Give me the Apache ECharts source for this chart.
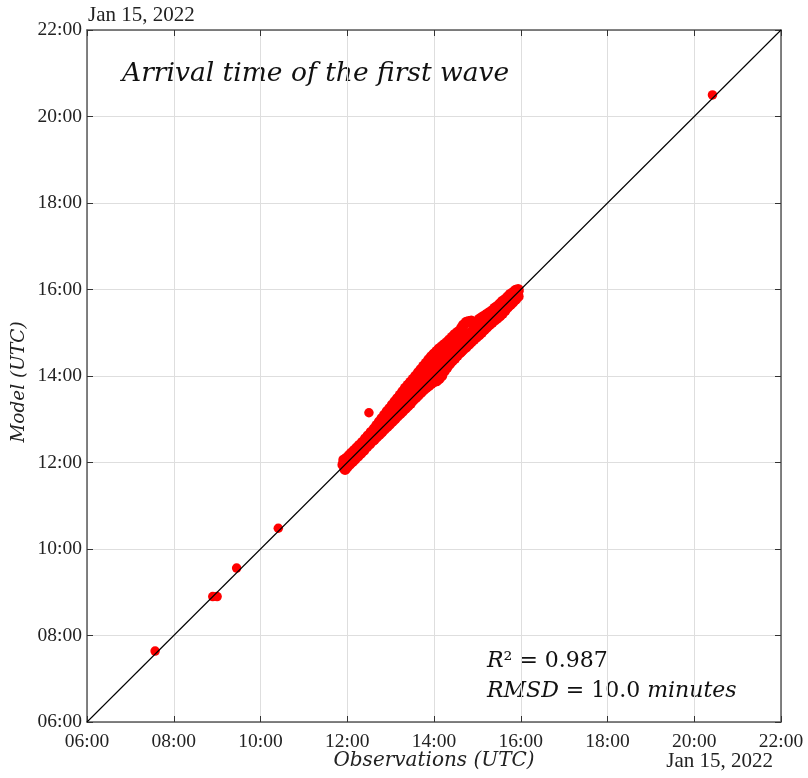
<!DOCTYPE html>
<html>
<head>
<meta charset="utf-8">
<script src="https://cdn.jsdelivr.net/npm/echarts@6/dist/echarts.min.js"></script>
<style>html,body{margin:0;padding:0;background:#fff}#c{width:808px;height:778px}</style>
</head>
<body>
<div id="c"></div>
<script>
// Axis range (hours UTC, Jan 15, 2022)
const axisMin = 6, axisMax = 22, axisStep = 2;
const identityLine = [6, 22];

// Isolated stations [observed hour, modelled hour]
const outlierPoints = [
  [7.57, 7.64], [8.90, 8.90], [9.00, 8.90], [9.45, 9.56], [10.41, 10.48],
  [12.50, 13.15], [20.42, 20.50]
];

// Dense cluster, 12:00 - 16:00
const clusterLow = [
  [11.90,11.95],[11.92,12.06],[11.95,11.84],[11.98,12.10],[12.00,11.90],[12.04,12.16],[12.06,11.96],
  [12.10,12.22],[12.12,12.02],[12.16,12.28],[12.18,12.08],[12.22,12.34],[12.25,12.15],[12.28,12.40],
  [12.31,12.21],[12.35,12.47],[12.38,12.28],[12.42,12.55],[12.45,12.36],[12.48,12.62],[12.52,12.43],
  [12.55,12.70],[12.58,12.50]
];
const clusterMidLow = [
  [12.62,12.78],[12.62,12.68],[12.62,12.53],[12.68,12.86],[12.68,12.75],[12.68,12.59],
  [12.74,12.94],[12.74,12.82],[12.74,12.65],[12.80,13.02],[12.80,12.89],[12.80,12.71],
  [12.86,13.10],[12.86,12.96],[12.86,12.77],[12.92,13.18],[12.92,13.03],[12.92,12.83],
  [12.98,13.25],[12.98,13.10],[12.98,12.89],[13.04,13.33],[13.04,13.17],[13.04,12.95],
  [13.10,13.41],[13.10,13.24],[13.10,13.01],[13.16,13.48],[13.16,13.31],[13.16,13.07],
  [13.22,13.56],[13.22,13.38],[13.22,13.13],[13.28,13.64],[13.28,13.45],[13.28,13.19],
  [13.34,13.72],[13.34,13.52],[13.34,13.25],[13.40,13.79],[13.40,13.58],[13.40,13.31],
  [13.46,13.86],[13.46,13.65],[13.46,13.37]
];
const clusterMid = [
  [13.52,13.93],[13.52,13.70],[13.52,13.44],[13.58,14.00],[13.58,13.76],[13.58,13.50],
  [13.64,14.08],[13.64,13.82],[13.64,13.56],[13.70,14.15],[13.70,13.88],[13.70,13.62],
  [13.76,14.23],[13.76,13.94],[13.76,13.68],[13.82,14.30],[13.82,14.00],[13.82,13.73],
  [13.88,14.38],[13.88,14.06],[13.88,13.78],[13.94,14.45],[13.94,14.12],[13.94,13.83],
  [14.00,14.51],[14.00,14.18],[14.00,13.87],[14.06,14.57],[14.06,14.24],[14.06,13.89],
  [14.12,14.63],[14.12,14.30],[14.12,13.94],[14.18,14.68],[14.18,14.36],[14.18,14.01],
  [14.24,14.73],[14.24,14.42],[14.24,14.12],[14.30,14.78],[14.30,14.48],[14.30,14.20],
  [14.36,14.84],[14.36,14.54],[14.36,14.28],[14.42,14.90],[14.42,14.60],[14.42,14.35],
  [14.48,14.96],[14.48,14.66],[14.48,14.41],[14.54,15.01],[14.54,14.72],[14.54,14.48],
  [13.55,13.88],[13.55,13.55],[13.67,14.00],[13.67,13.68],[13.79,14.13],[13.79,13.80],
  [13.91,14.26],[13.91,13.92],[14.03,14.38],[14.03,14.03],[14.15,14.50],[14.15,14.14],
  [14.27,14.60],[14.27,14.26],[14.39,14.72],[14.39,14.38],[14.51,14.84],[14.51,14.50]
];
const clusterBulge = [
  [14.60,15.05],[14.60,14.80],[14.60,14.54],[14.64,15.12],[14.64,14.84],[14.64,14.58],
  [14.68,15.18],[14.68,14.88],[14.68,14.62],[14.74,15.24],[14.74,14.92],[14.74,14.67],
  [14.80,15.26],[14.80,14.97],[14.80,14.73],[14.86,15.27],[14.86,15.02],[14.86,14.79],
  [14.92,15.23],[14.92,15.08],[14.92,14.85],[14.98,15.25],[14.98,15.12],[14.98,14.90]
];
const clusterHigh = [
  [15.04,15.31],[15.04,15.14],[15.04,14.95],[15.10,15.35],[15.10,15.20],[15.10,15.01],
  [15.16,15.39],[15.16,15.26],[15.16,15.07],[15.22,15.43],[15.22,15.30],[15.22,15.13],
  [15.28,15.47],[15.28,15.36],[15.28,15.19],[15.34,15.51],[15.34,15.40],[15.34,15.24],
  [15.40,15.57],[15.40,15.46],[15.40,15.29],[15.46,15.61],[15.46,15.52],[15.46,15.34],
  [15.52,15.67],[15.52,15.56],[15.52,15.39],[15.58,15.73],[15.58,15.62],[15.58,15.45],
  [15.64,15.77],[15.64,15.68],[15.64,15.52],[15.70,15.83],[15.70,15.74],[15.70,15.59],
  [15.76,15.89],[15.76,15.80],[15.76,15.65],[15.82,15.93],[15.82,15.86],[15.82,15.71],
  [15.88,15.98],[15.88,15.90],[15.88,15.77],[15.94,16.00],[15.94,15.96],[15.94,15.84]
];

const serif = '"Liberation Serif", "DejaVu Serif", serif';
const iserif = '"DejaVu Serif", "Liberation Serif", serif';
const clusterPoints = [].concat(clusterLow, clusterMidLow, clusterMid, clusterBulge, clusterHigh);
const fmt = v => (v < 10 ? '0' : '') + v + ':00';

const chart = echarts.init(document.getElementById('c'));
const gridRect = {left: 87, top: 30, width: 694, height: 692};
const axisLineStyle = {color: '#5a5a5a', width: 1.5};
const baseAxis = {
  type: 'value', min: axisMin, max: axisMax, interval: axisStep,
  axisLine: {show: true, onZero: false, lineStyle: axisLineStyle},
  axisTick: {show: true, inside: true, length: 6, lineStyle: {color: '#333', width: 1}},
  splitLine: {show: true, lineStyle: {color: '#dedede', width: 1}},
  axisLabel: {show: true, formatter: fmt, color: '#222', fontFamily: serif, fontSize: 19.5}
};
chart.setOption({
  animation: false,
  backgroundColor: '#fff',
  grid: gridRect,
  xAxis: [
    Object.assign({}, baseAxis, {position: 'bottom', axisLabel: Object.assign({}, baseAxis.axisLabel, {margin: 10, showMinLabel: true, showMaxLabel: true})}),
    Object.assign({}, baseAxis, {position: 'top', axisLabel: {show: false}, splitLine: {show: false}})
  ],
  yAxis: [
    Object.assign({}, baseAxis, {position: 'left', axisLabel: Object.assign({}, baseAxis.axisLabel, {margin: 5})}),
    Object.assign({}, baseAxis, {position: 'right', axisLabel: {show: false}, splitLine: {show: false}})
  ],
  series: [
    {
      type: 'scatter', data: clusterPoints, symbol: 'circle', symbolSize: 11,
      itemStyle: {color: '#ff0000', opacity: 1, borderWidth: 0}, z: 2
    },
    {
      type: 'scatter', data: outlierPoints, symbol: 'circle', symbolSize: 9.5,
      itemStyle: {color: '#ff0000', opacity: 1, borderWidth: 0}, z: 2
    },
    {
      type: 'line', data: [[identityLine[0], identityLine[0]], [identityLine[1], identityLine[1]]],
      symbol: 'none', lineStyle: {color: '#000', width: 1.1}, z: 3
    }
  ],
  graphic: [
    {type: 'text', left: 88, top: 5, style: {text: 'Jan 15, 2022', font: '21px ' + serif, fill: '#222'}},
    {type: 'text', right: 35, top: 751, style: {text: 'Jan 15, 2022', font: '21px ' + serif, fill: '#222'}},
    {type: 'text', x: 122, y: 61, style: {text: 'Arrival time of the first wave', font: 'italic 26.5px ' + iserif, fill: '#111'}},
    {type: 'text', x: 434, y: 761, style: {text: 'Observations (UTC)', font: 'italic 20px ' + iserif, fill: '#222', align: 'center', verticalAlign: 'middle'}},
    {type: 'text', x: 19, y: 382, rotation: Math.PI / 2, style: {text: 'Model (UTC)', font: 'italic 18.5px ' + iserif, fill: '#222', align: 'center', verticalAlign: 'middle'}},
    {type: 'text', x: 487, y: 646, style: {
      text: '{i|R}{n|² = 0.987}\n{i|RMSD}{n| = 10.0 }{i|minutes}',
      rich: {
        i: {fontFamily: iserif, fontStyle: 'italic', fontSize: 22, fill: '#111', lineHeight: 30},
        n: {fontFamily: iserif, fontSize: 22, fill: '#111', lineHeight: 30}
      }
    }}
  ]
});
</script>
</body>
</html>
